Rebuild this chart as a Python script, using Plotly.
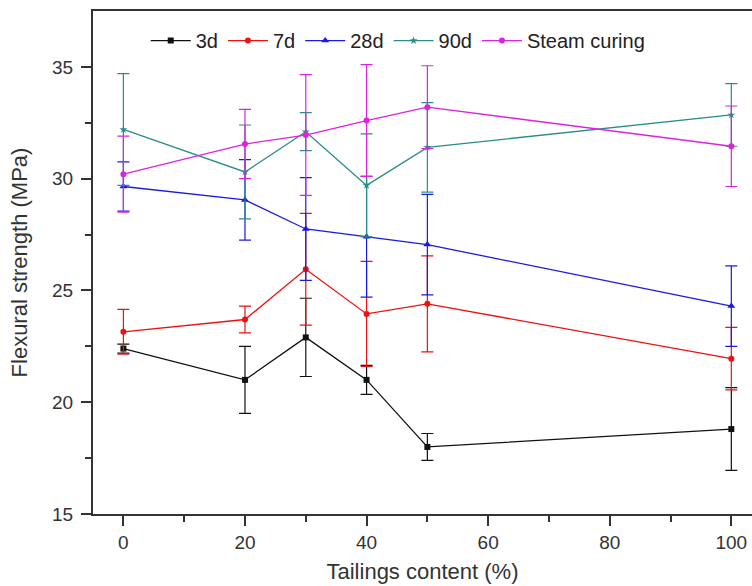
import plotly.graph_objects as go

# Tailings content (%) on the x axis
tailings = [0, 20, 30, 40, 50, 100]

# Flexural strength (MPa) for each curing regime, with error half-widths
s3d = [22.4, 21.0, 22.9, 21.0, 18.0, 18.8]
e3d = [0.2, 1.5, 1.75, 0.65, 0.6, 1.85]

s7d = [23.15, 23.7, 25.95, 23.95, 24.4, 21.95]
e7d = [1.0, 0.6, 2.5, 2.35, 2.15, 1.4]

s28d = [29.65, 29.05, 27.75, 27.4, 27.05, 24.3]
e28d = [1.1, 1.8, 2.3, 2.7, 2.25, 1.8]

s90d = [32.2, 30.3, 32.1, 29.7, 31.4, 32.85]
e90d = [2.5, 2.1, 0.85, 2.3, 2.0, 1.4]

steam = [30.2, 31.55, 31.95, 32.6, 33.2, 31.45]
esteam = [1.7, 1.55, 2.7, 2.5, 1.85, 1.8]

series = [
    ("3d", s3d, e3d, "#111111", "square", 6),
    ("7d", s7d, e7d, "#ee1111", "circle", 6),
    ("28d", s28d, e28d, "#1a1ae6", "triangle-up", 7),
    ("90d", s90d, e90d, "#2a8c8c", "star", 6),
    ("Steam curing", steam, esteam, "#dd22dd", "circle", 6),
]

fig = go.Figure()
for name, vals, errs, color, sym, size in series:
    fig.add_trace(go.Scatter(
        x=tailings, y=vals, name=name, mode="lines+markers",
        line=dict(color=color, width=1.3),
        marker=dict(color=color, symbol=sym, size=size),
        error_y=dict(type="data", array=errs, visible=True,
                     color=color, thickness=1.2, width=6),
        cliponaxis=False,
    ))

base_font = dict(family="Liberation Sans, Arial, sans-serif", size=19, color="#333333")
ax_color = "#333333"

fig.update_layout(
    width=752, height=586,
    margin=dict(l=93, r=0, t=11, b=72),
    paper_bgcolor="white", plot_bgcolor="white",
    font=base_font,
    showlegend=True,
    legend=dict(orientation="h", x=0.08, y=0.98, xanchor="left", yanchor="top",
                bgcolor="rgba(0,0,0,0)", font=dict(size=20, color="#222222"),
                itemwidth=40, tracegroupgap=0),
    xaxis=dict(
        range=[-5, 103.4], tickvals=[0, 20, 40, 60, 80, 100],
        ticks="outside", ticklen=10, tickwidth=2, tickcolor=ax_color,
        minor=dict(tickvals=[10, 30, 50, 70, 90], ticks="outside", ticklen=6,
                   tickwidth=2, tickcolor=ax_color),
        showline=True, linecolor=ax_color, linewidth=2, mirror=True,
        showgrid=False, zeroline=False,
        title=dict(text="Tailings content (%)", font=dict(size=22), standoff=12),
        tickfont=dict(size=19),
    ),
    yaxis=dict(
        range=[15, 37.5], tickvals=[15, 20, 25, 30, 35],
        ticks="outside", ticklen=10, tickwidth=2, tickcolor=ax_color,
        minor=dict(tickvals=[17.5, 22.5, 27.5, 32.5], ticks="outside", ticklen=6,
                   tickwidth=2, tickcolor=ax_color),
        showline=True, linecolor=ax_color, linewidth=2, mirror=False,
        showgrid=False, zeroline=False,
        title=dict(text="Flexural strength (MPa)", font=dict(size=22), standoff=18),
        tickfont=dict(size=19),
        ticklabelstandoff=4,
    ),
)

fig.write_html("out.html")
